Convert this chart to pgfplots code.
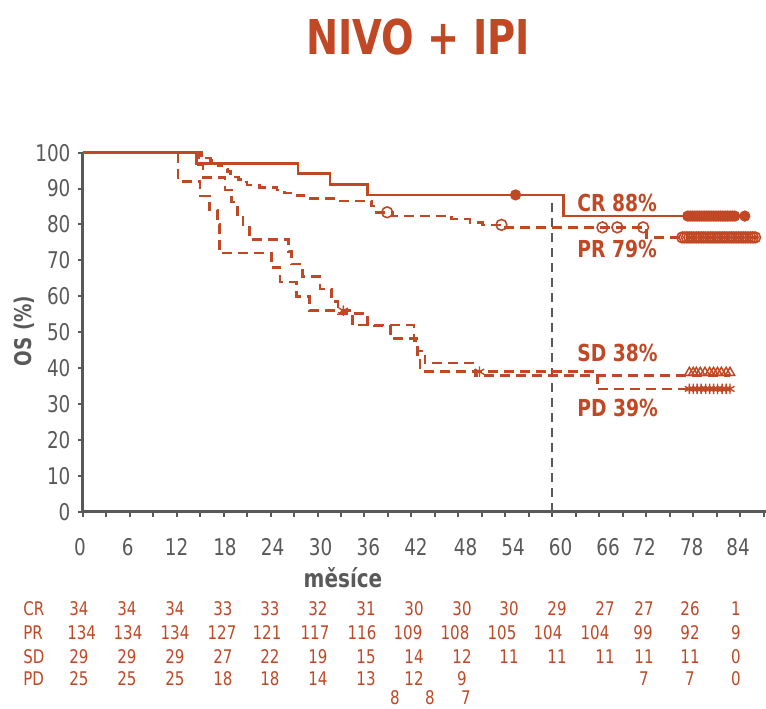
\documentclass[border=0pt]{standalone}
\usepackage{pgfplots}
\pgfplotsset{compat=1.18}
\usepackage{fontspec}
\setmainfont{DejaVu Sans}[FakeStretch=0.8]
\definecolor{ipi}{RGB}{192,72,36}
\definecolor{axgray}{RGB}{89,89,89}

\begin{document}
\begin{tikzpicture}
\path[use as bounding box] (0,0) rectangle (383pt,354pt);

\begin{axis}[
  at={(41.35pt,98.15pt)}, anchor=south west,
  scale only axis, width=341.65pt, height=179.5pt,
  xmin=0, xmax=87.3, ymin=0, ymax=100,
  clip=false,
  axis lines*=left,
  axis line style={axgray, line width=1.3pt, -},
  xtick={0,3,...,87}, xticklabels={},
  ytick={0,10,...,100},
  tick align=outside,
  major tick length=2.6pt,
  tick style={axgray, line width=1pt},
  /pgf/number format/assume math mode=true,
  yticklabel style={font=\fontsize{11.5}{12}\selectfont, text=axgray},
  every axis plot/.append style={ipi},
  km/.style={const plot, line width=1.25pt, dash pattern=on 5pt off 3pt},
]
% vertical reference at 60 months
\draw[axgray, line width=1.1pt, dash pattern=on 4.5pt off 3pt] (axis cs:60,0) -- (axis cs:60,87.7);

% CR
\addplot[const plot, line width=1.35pt] coordinates {
  (0,100) (14.5,97.06) (27.5,94.12) (31.6,91.18) (36.4,88.24) (61.4,82.35) (84.6,82.35)};
% PR
\addplot[km] coordinates {
  (0,100) (15.2,99.25) (15.6,98.5) (16.3,97.8) (16.8,97.0) (17.3,96.3) (18.0,95.5)
  (18.5,94.8) (18.9,94.0) (19.5,93.3) (19.9,92.5) (20.4,91.8) (21.0,91.0) (22.6,90.3)
  (24.8,89.6) (25.8,88.8) (27.0,88.1) (28.3,87.3) (32.5,86.6) (36.9,85.1) (37.5,83.4)
  (39.6,82.4) (47.1,81.5) (49.5,80.6) (51.1,79.9) (54.0,79.2) (72.0,76.4) (86.1,76.4)};
% SD
\addplot[km] coordinates {
  (0,100) (14.8,96.55) (15.4,93.1) (18.2,89.66) (19.0,86.21) (19.8,82.76) (20.5,79.31)
  (21.3,75.86) (26.3,72.41) (26.7,68.97) (28.1,65.52) (30.3,62.07) (31.8,58.62)
  (32.6,55.17) (36.4,51.72) (39.3,48.28) (42.7,44.83) (43.7,41.38) (50.1,37.93) (82.7,37.93)};
% PD
\addplot[km] coordinates {
  (0,100) (12.2,92) (15.0,88) (16.2,84) (17.2,80) (17.5,72) (24.1,68) (25.2,64)
  (27.3,60) (29.0,56) (34.5,52) (42.3,47.67) (42.8,43.33) (43.1,39.0) (65.8,34.2) (82.7,34.2)};

% censored observations
\addplot[only marks, mark=*, mark size=2.6pt] coordinates {
  (55.3,88.24) (77.3,82.35) (77.6,82.35) (77.9,82.35) (78.2,82.35) (78.5,82.35)
  (78.8,82.35) (79.1,82.35) (79.4,82.35) (79.7,82.35) (80.0,82.35) (80.3,82.35)
  (80.6,82.35) (80.9,82.35) (81.2,82.35) (81.5,82.35) (81.8,82.35) (82.1,82.35)
  (82.4,82.35) (82.7,82.35) (83.0,82.35) (83.3,82.35) (84.6,82.35)};
\addplot[only marks, mark=o, mark size=2.7pt, mark options={line width=0.8pt}] coordinates {
  (38.9,83.4) (53.5,79.9) (66.4,79.2) (68.3,79.2) (71.6,79.2)
  (76.6,76.4) (76.9,76.4) (77.2,76.4) (77.5,76.4) (77.8,76.4) (78.1,76.4) (78.4,76.4)
  (78.7,76.4) (79.0,76.4) (79.3,76.4) (79.6,76.4) (79.9,76.4) (80.2,76.4) (80.5,76.4)
  (80.8,76.4) (81.1,76.4) (81.4,76.4) (81.7,76.4) (82.0,76.4) (82.3,76.4) (82.6,76.4)
  (82.9,76.4) (83.2,76.4) (83.5,76.4) (83.8,76.4) (84.1,76.4) (84.4,76.4) (84.7,76.4)
  (85.0,76.4) (85.3,76.4) (85.6,76.4) (85.9,76.4)};
\addplot[only marks, mark=triangle, mark size=2.7pt, mark options={line width=0.75pt}] coordinates {
  (77.5,38.7) (78.0,38.7) (78.4,38.7) (78.9,38.7) (79.5,38.7) (80.1,38.7) (80.6,38.7)
  (81.1,38.7) (81.6,38.7) (82.2,38.7) (82.7,38.7)};
\addplot[only marks, mark=asterisk, mark size=2.6pt, mark options={line width=0.7pt}] coordinates {
  (33.3,56) (50.7,39.0)
  (77.5,34.2) (78.0,34.2) (78.5,34.2) (79.0,34.2) (79.6,34.2) (80.1,34.2) (80.6,34.2)
  (81.1,34.2) (81.7,34.2) (82.2,34.2) (82.7,34.2)};
\end{axis}

\begin{scope}[x=0.5pt,y=0.5pt]
% title and axis titles
\node[text=ipi, font=\bfseries\fontsize{24}{26}\selectfont] at (418,671) {NIVO + IPI};
\node[text=axgray, font=\bfseries\fontsize{11.5}{12}\selectfont, rotate=90] at (24,377) {OS (\%)};
\node[text=axgray, font=\bfseries\fontsize{12.5}{13}\selectfont] at (343,130) {měsíce};

% x tick labels
\foreach \xx/\t in {80/0, 127.7/6, 176.7/12, 225/18, 272.7/24, 320.7/30, 368.3/36,
  416/42, 465.7/48, 513/54, 560.7/60, 608/66, 644/72, 691.7/78, 738/84}
  \node[text=axgray, font=\fontsize{11.5}{12}\selectfont] at (\xx,161) {\t};

% curve labels
\begin{scope}[every node/.style={text=ipi, font=\bfseries\fontsize{11.7}{12}\selectfont, anchor=west, inner sep=0pt}]
\node at (577,505) {CR 88\%};
\node at (577,459) {PR 79\%};
\node at (577,355) {SD 38\%};
\node at (577,300) {PD 39\%};
\end{scope}

% numbers at risk
\begin{scope}[every node/.style={text=ipi, font=\fontsize{9.4}{10}\selectfont}]
\node[anchor=west, inner sep=0pt] at (23,99) {CR};
\node[anchor=west, inner sep=0pt] at (23,75) {PR};
\node[anchor=west, inner sep=0pt] at (23,51) {SD};
\node[anchor=west, inner sep=0pt] at (23,29.5) {PD};
\foreach \xx/\cr/\sd/\pd in {79/34/29/25, 127/34/29/25, 175/34/29/25, 223/33/27/18,
  270/33/22/18, 318/32/19/14, 366/31/15/13, 414/30/14/12, 462/30/12/9,
  509/30/11/{}, 557/29/11/{}, 605/27/11/{}, 644/27/11/7, 690/26/11/7, 736/1/0/0}{
  \node at (\xx,99) {\cr};
  \node at (\xx,51) {\sd};
  \node at (\xx,29.5) {\pd};
}
\foreach \xx/\pr in {81.7/134, 128/134, 175/134, 222/127, 267/121, 315/117, 362/116,
  408/109, 455/108, 502/105, 548/104, 595/104, 643/99, 690/92, 736/9}
  \node at (\xx,75) {\pr};
\node at (395,10) {8};
\node at (430,10) {8};
\node at (466,10) {7};
\end{scope}
\end{scope}
\end{tikzpicture}
\end{document}
